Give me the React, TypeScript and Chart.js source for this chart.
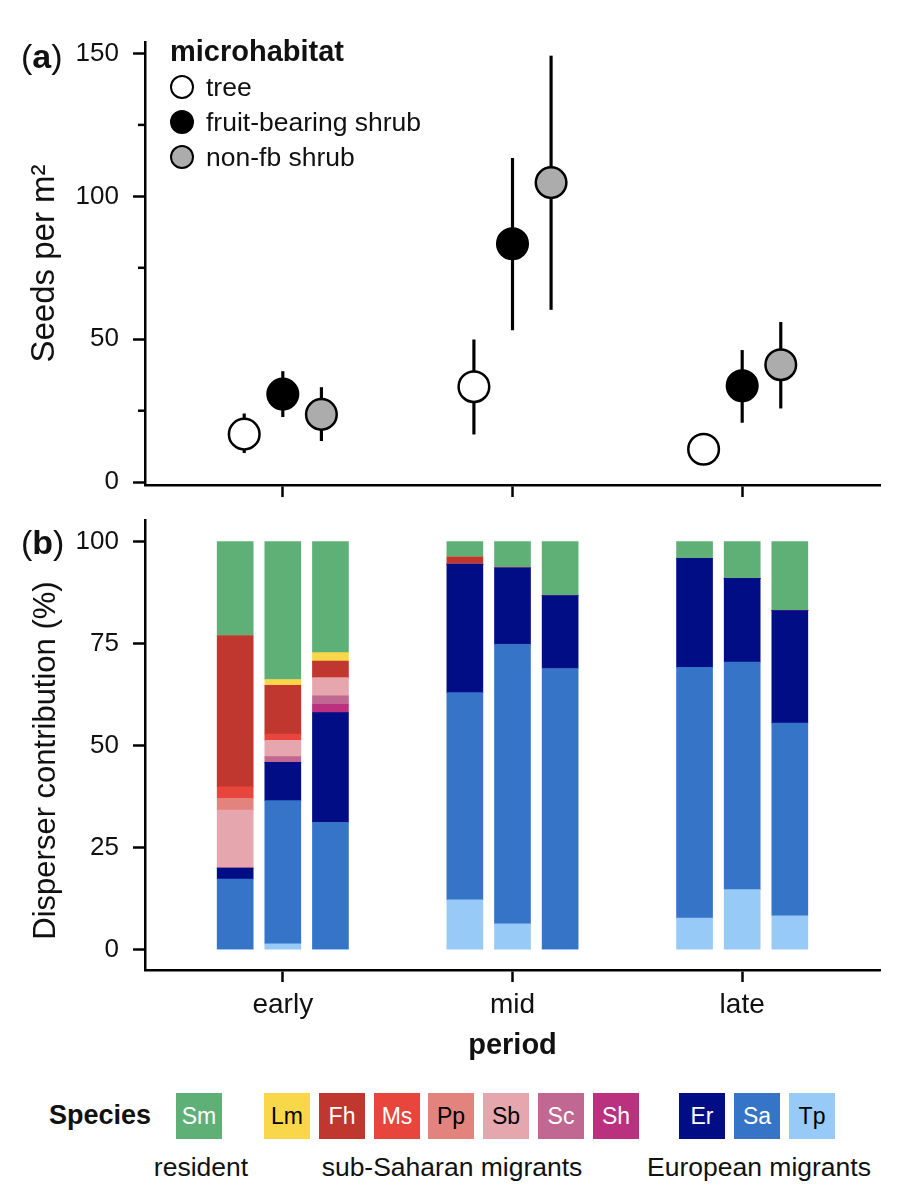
import React, { useEffect, useRef } from "react";
import { Chart, registerables } from "chart.js";

Chart.register(...registerables);

const FONT = "'Liberation Sans', Arial, Helvetica, sans-serif";

// ---------- Panel (a): seeds per m2 ----------
const periods = ["early", "mid", "late"];
const periodValues = [1, 2, 3];
const microhabitats = ["tree", "fruit-bearing shrub", "non-fb shrub"];

const treeMean = [16.8, 33.4, 11.5];
const treeLow = [10.3, 16.8, 8.5];
const treeHigh = [23.9, 49.8, 14.5];

const fruitMean = [30.8, 83.4, 33.7];
const fruitLow = [22.9, 53.3, 20.9];
const fruitHigh = [38.7, 113.3, 46.1];

const nonfbMean = [23.7, 104.8, 41.1];
const nonfbLow = [14.5, 60.4, 25.9];
const nonfbHigh = [33.1, 149.1, 55.9];

const seedTicks = [0, 50, 100, 150];
const seedMinorTicks = [25, 75, 125];

// ---------- Panel (b): disperser contribution (%) ----------
// bar order: early-tree, early-fb, early-nonfb, mid-tree, mid-fb, mid-nonfb, late-tree, late-fb, late-nonfb
const speciesCodes = ["Sm", "Lm", "Fh", "Ms", "Pp", "Sb", "Sc", "Sh", "Er", "Sa", "Tp"];
const speciesGroups = ["resident", "sub-Saharan migrants", "European migrants"];

const sm = [23.0, 33.8, 27.2, 3.7, 6.4, 13.2, 4.1, 9.0, 16.9];
const lm = [0, 1.4, 2.1, 0, 0, 0, 0, 0, 0];
const fh = [37.1, 12.0, 4.1, 1.8, 0, 0, 0, 0, 0];
const ms = [2.8, 1.5, 0, 0, 0, 0, 0, 0, 0];
const pp = [2.9, 0, 0, 0, 0, 0, 0, 0, 0];
const sb = [14.2, 4.0, 4.4, 0, 0, 0, 0, 0, 0];
const sc = [0, 1.4, 2.1, 0, 0, 0, 0, 0, 0];
const sh = [0, 0, 2.0, 0, 0, 0, 0, 0, 0];
const er = [2.7, 9.4, 26.9, 31.5, 18.8, 17.9, 26.7, 20.5, 27.6];
const sa = [17.3, 35.1, 31.2, 50.8, 68.5, 68.9, 61.5, 55.8, 47.2];
const tp = [0, 1.4, 0, 12.2, 6.3, 0, 7.7, 14.7, 8.3];

const shareTicks = [0, 25, 50, 75, 100];

// ---------- styles ----------
const speciesSeries = [sm, lm, fh, ms, pp, sb, sc, sh, er, sa, tp];
const speciesColors = ["#5fb077", "#f9d74a", "#bf372f", "#e8453c", "#e2837d", "#e5a6ae", "#c06891", "#b9317f", "#000d85", "#3574c7", "#98caf7"];
const speciesTextColors = ["#fff", "#000", "#fff", "#fff", "#000", "#000", "#fff", "#fff", "#fff", "#fff", "#000"];
const habitatFill = ["#ffffff", "#000000", "#acacac"];

const POINT_DODGE = 0.168;
const BAR_DODGE = 0.2074;
const AXIS_W = 2.5;

const minorTickPlugin = {
  id: "minorTicks",
  afterDraw(chart: any) {
    const y = chart.scales.y;
    const ctx = chart.ctx;
    ctx.save();
    ctx.strokeStyle = "#000";
    ctx.lineWidth = AXIS_W;
    seedMinorTicks.forEach((v) => {
      const py = y.getPixelForValue(v);
      ctx.beginPath();
      ctx.moveTo(chart.chartArea.left - 7, py);
      ctx.lineTo(chart.chartArea.left, py);
      ctx.stroke();
    });
    ctx.restore();
  },
};

function axisGrid() {
  return {
    drawOnChartArea: false,
    drawTicks: true,
    tickLength: 12,
    tickWidth: AXIS_W,
    tickColor: "#000",
    offset: false,
  };
}

export default function App() {
  const refA = useRef<HTMLCanvasElement>(null);
  const refB = useRef<HTMLCanvasElement>(null);

  useEffect(() => {
    // ----- panel (a) -----
    const means = [treeMean, fruitMean, nonfbMean];
    const lows = [treeLow, fruitLow, nonfbLow];
    const highs = [treeHigh, fruitHigh, nonfbHigh];
    const errorData: any[] = [];
    microhabitats.forEach((_, h) => {
      periodValues.forEach((pv, p) => {
        errorData.push({ x: pv + (h - 1) * POINT_DODGE, y: [lows[h][p], highs[h][p]] });
      });
    });
    const pointSets = microhabitats.map((name, h) => ({
      type: "scatter",
      label: name,
      data: periodValues.map((pv, p) => ({ x: pv + (h - 1) * POINT_DODGE, y: means[h][p] })),
      backgroundColor: habitatFill[h],
      borderColor: "#000",
      pointBackgroundColor: habitatFill[h],
      pointBorderColor: "#000",
      pointBorderWidth: 2.5,
      pointRadius: 15.3,
      pointHoverRadius: 15.3,
      showLine: false,
      order: 1,
    }));

    const chartA = new Chart(refA.current!, {
      type: "scatter",
      data: {
        datasets: [
          {
            type: "bar",
            label: "error",
            data: errorData,
            backgroundColor: "#000",
            borderWidth: 0,
            barThickness: 2.5,
            grouped: false,
            order: 5,
          } as any,
          ...(pointSets as any),
        ],
      },
      options: {
        responsive: false,
        animation: false,
        devicePixelRatio: 1,
        layout: { padding: { left: 0, right: 22, top: 42, bottom: 0 } },
        plugins: { legend: { display: false }, tooltip: { enabled: false } },
        scales: {
          x: {
            type: "linear",
            min: 0.4,
            max: 3.6,
            offset: false,
            afterBuildTicks: (s: any) => {
              s.ticks = periodValues.map((v) => ({ value: v }));
            },
            ticks: { display: false },
            grid: axisGrid(),
            border: { display: true, color: "#000", width: AXIS_W },
            afterFit: (s: any) => {
              s.height = 35;
            },
          },
          y: {
            type: "linear",
            min: -1,
            max: 154,
            afterBuildTicks: (s: any) => {
              s.ticks = seedTicks.map((v) => ({ value: v }));
            },
            ticks: {
              color: "#111",
              font: { family: FONT, size: 26 },
              padding: 14,
              callback: (v: any) => String(v),
            },
            grid: axisGrid(),
            border: { display: true, color: "#000", width: AXIS_W },
            title: {
              display: true,
              text: "Seeds per m\u00b2",
              color: "#111",
              font: { family: FONT, size: 33 },
              padding: { top: 25, bottom: 0 },
            },
            afterFit: (s: any) => {
              s.width = 145;
            },
          },
        },
      } as any,
      plugins: [minorTickPlugin],
    });

    // ----- panel (b) -----
    const barX: number[] = [];
    periodValues.forEach((pv) => {
      [0, 1, 2].forEach((h) => barX.push(pv + (h - 1) * BAR_DODGE));
    });
    const barSets = speciesCodes
      .map((code, i) => ({
        label: code,
        data: barX.map((x, j) => ({ x, y: speciesSeries[i][j] })),
        backgroundColor: speciesColors[i],
        borderWidth: 0,
        barThickness: 36,
      }))
      .reverse();

    const chartB = new Chart(refB.current!, {
      type: "bar",
      data: { datasets: barSets as any },
      options: {
        responsive: false,
        animation: false,
        devicePixelRatio: 1,
        layout: { padding: { left: 0, right: 22, top: 40, bottom: 0 } },
        plugins: { legend: { display: false }, tooltip: { enabled: false } },
        scales: {
          x: {
            type: "linear",
            min: 0.4,
            max: 3.6,
            stacked: true,
            offset: false,
            afterBuildTicks: (s: any) => {
              s.ticks = periodValues.map((v) => ({ value: v }));
            },
            ticks: {
              color: "#111",
              font: { family: FONT, size: 28 },
              padding: 6,
              maxRotation: 0,
              autoSkip: false,
              callback: (v: any) => {
                const i = periodValues.indexOf(v);
                return i >= 0 ? periods[i] : "";
              },
            },
            grid: axisGrid(),
            border: { display: true, color: "#000", width: AXIS_W },
            title: {
              display: true,
              text: "period",
              color: "#111",
              font: { family: FONT, size: 29, weight: "bold" },
              padding: { top: 0, bottom: 17 },
            },
            afterFit: (s: any) => {
              s.height = 110;
            },
          },
          y: {
            type: "linear",
            min: -5,
            max: 105.3,
            stacked: true,
            afterBuildTicks: (s: any) => {
              s.ticks = shareTicks.map((v) => ({ value: v }));
            },
            ticks: {
              color: "#111",
              font: { family: FONT, size: 26 },
              padding: 14,
              callback: (v: any) => String(v),
            },
            grid: axisGrid(),
            border: { display: true, color: "#000", width: AXIS_W },
            title: {
              display: true,
              text: "Disperser contribution (%)\u2002\u2002",
              color: "#111",
              font: { family: FONT, size: 31 },
              padding: { top: 28, bottom: 0 },
            },
            afterFit: (s: any) => {
              s.width = 145;
            },
          },
        },
      } as any,
    });

    return () => {
      chartA.destroy();
      chartB.destroy();
    };
  }, []);

  const legendCenters = [86.7, 121.7, 157.3];
  const boxCenters = [199, 287, 342, 397, 451, 506, 561, 616, 702, 757, 812];
  const groupCenters = [201, 452, 759];

  return (
    <div style={{ position: "absolute", left: 0, top: 0, width: 902, height: 1200, background: "#fff", fontFamily: FONT, color: "#111" }}>
      <canvas ref={refA} width={902} height={520} style={{ position: "absolute", left: 0, top: 0, width: 902, height: 520 }} />
      <canvas ref={refB} width={902} height={600} style={{ position: "absolute", left: 0, top: 480, width: 902, height: 600 }} />

      {/* panel tags */}
      <div style={{ position: "absolute", left: 21, top: 56 - 21, height: 42, lineHeight: "42px", fontSize: 34, whiteSpace: "nowrap" }}>
        (<b>a</b>)
      </div>
      <div style={{ position: "absolute", left: 21, top: 542 - 21, height: 42, lineHeight: "42px", fontSize: 34, whiteSpace: "nowrap" }}>
        (<b>b</b>)
      </div>

      {/* microhabitat legend */}
      <div style={{ position: "absolute", left: 170, top: 51 - 18, height: 36, lineHeight: "36px", fontSize: 29, fontWeight: "bold", whiteSpace: "nowrap" }}>
        microhabitat
      </div>
      {microhabitats.map((name, h) => (
        <React.Fragment key={name}>
          <div
            style={{
              position: "absolute",
              left: 170,
              top: legendCenters[h] - 12,
              width: 24,
              height: 24,
              boxSizing: "border-box",
              borderRadius: "50%",
              border: "2.5px solid #000",
              background: habitatFill[h],
            }}
          />
          <div style={{ position: "absolute", left: 206, top: legendCenters[h] - 16, height: 32, lineHeight: "32px", fontSize: 26.5, whiteSpace: "nowrap" }}>
            {name}
          </div>
        </React.Fragment>
      ))}

      {/* species legend */}
      <div style={{ position: "absolute", left: 49, top: 1115 - 18, height: 36, lineHeight: "36px", fontSize: 27, fontWeight: "bold", whiteSpace: "nowrap" }}>
        Species
      </div>
      {speciesCodes.map((code, i) => (
        <div
          key={code}
          style={{
            position: "absolute",
            left: boxCenters[i] - 23,
            top: 1093,
            width: 46,
            height: 46,
            background: speciesColors[i],
            color: speciesTextColors[i],
            fontSize: 23,
            lineHeight: "46px",
            textAlign: "center",
          }}
        >
          {code}
        </div>
      ))}
      {speciesGroups.map((g, k) => (
        <div
          key={g}
          style={{ position: "absolute", left: groupCenters[k] - 200, width: 400, top: 1167 - 17, height: 34, lineHeight: "34px", fontSize: 26.5, textAlign: "center", whiteSpace: "nowrap" }}
        >
          {g}
        </div>
      ))}
    </div>
  );
}
